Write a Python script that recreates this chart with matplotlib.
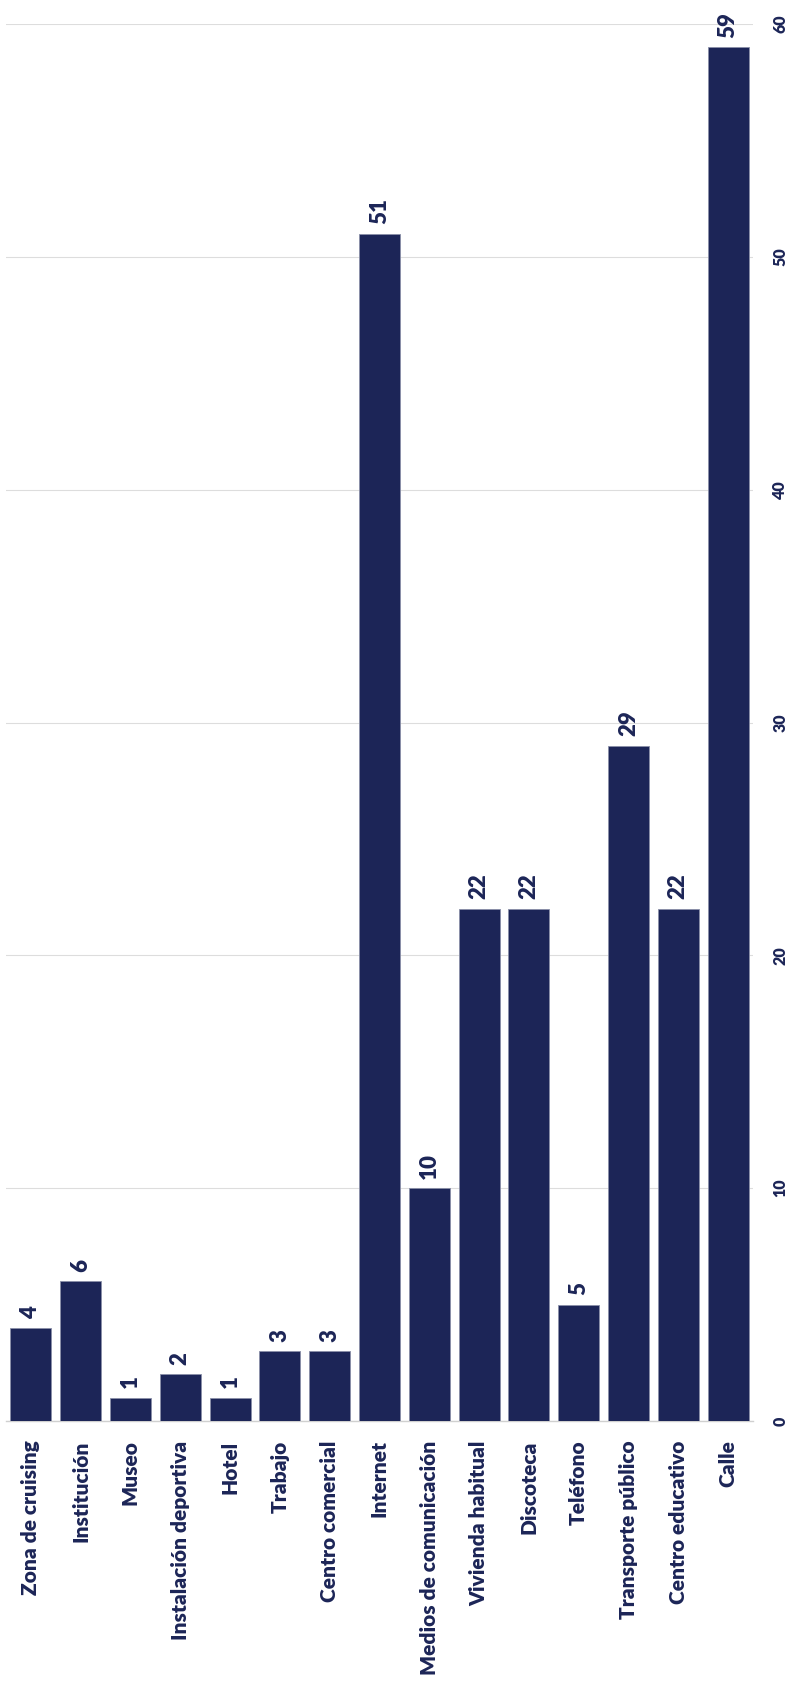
import matplotlib
matplotlib.use("Agg")
import matplotlib.pyplot as plt

categories = ["Zona de cruising", "Institución", "Museo", "Instalación deportiva", "Hotel",
              "Trabajo", "Centro comercial", "Internet", "Medios de comunicación",
              "Vivienda habitual", "Discoteca", "Teléfono", "Transporte público",
              "Centro educativo", "Calle"]
values = [4, 6, 1, 2, 1, 3, 3, 51, 10, 22, 22, 5, 29, 22, 59]
yticks = [0, 10, 20, 30, 40, 50, 60]

navy = "#1c2557"
plt.rcParams['font.family'] = ['Lato', 'DejaVu Sans']

W, H = 787, 1686
fig = plt.figure(figsize=(W / 100, H / 100), dpi=100)
ax = fig.add_axes([6 / W, 1 - 1421 / H, (753 - 6) / W, (1421 - 24) / H])

x = list(range(len(categories)))
ax.bar(x, values, width=0.82, color=navy, edgecolor="#8a8fa8", linewidth=0.6, zorder=3)
ax.set_xlim(-0.5, len(categories) - 0.5)
ax.set_ylim(0, 60)

for xi, v in zip(x, values):
    ax.text(xi, v + 0.4, str(v), rotation=90, ha="center", va="bottom",
            fontsize=16, fontweight="heavy", color=navy)

ax.set_yticks(yticks)
ax.yaxis.tick_right()
ax.set_yticklabels([str(t) for t in yticks], rotation=90, va="center",
                   fontsize=11.5, fontweight="heavy", color=navy)
ax.tick_params(axis="y", length=0, pad=14)
ax.grid(axis="y", color="#dddddd", linewidth=0.8, zorder=0)

ax.set_xticks(x)
ax.set_xticklabels(categories, rotation=90, fontsize=15, fontweight="heavy", color=navy)
ax.tick_params(axis="x", length=0, pad=14)

for s in ["top", "left", "right"]:
    ax.spines[s].set_visible(False)
ax.spines["bottom"].set_color("#d0d0d0")
ax.spines["bottom"].set_linewidth(1)

fig.savefig("out.png", dpi=100, facecolor="white")
